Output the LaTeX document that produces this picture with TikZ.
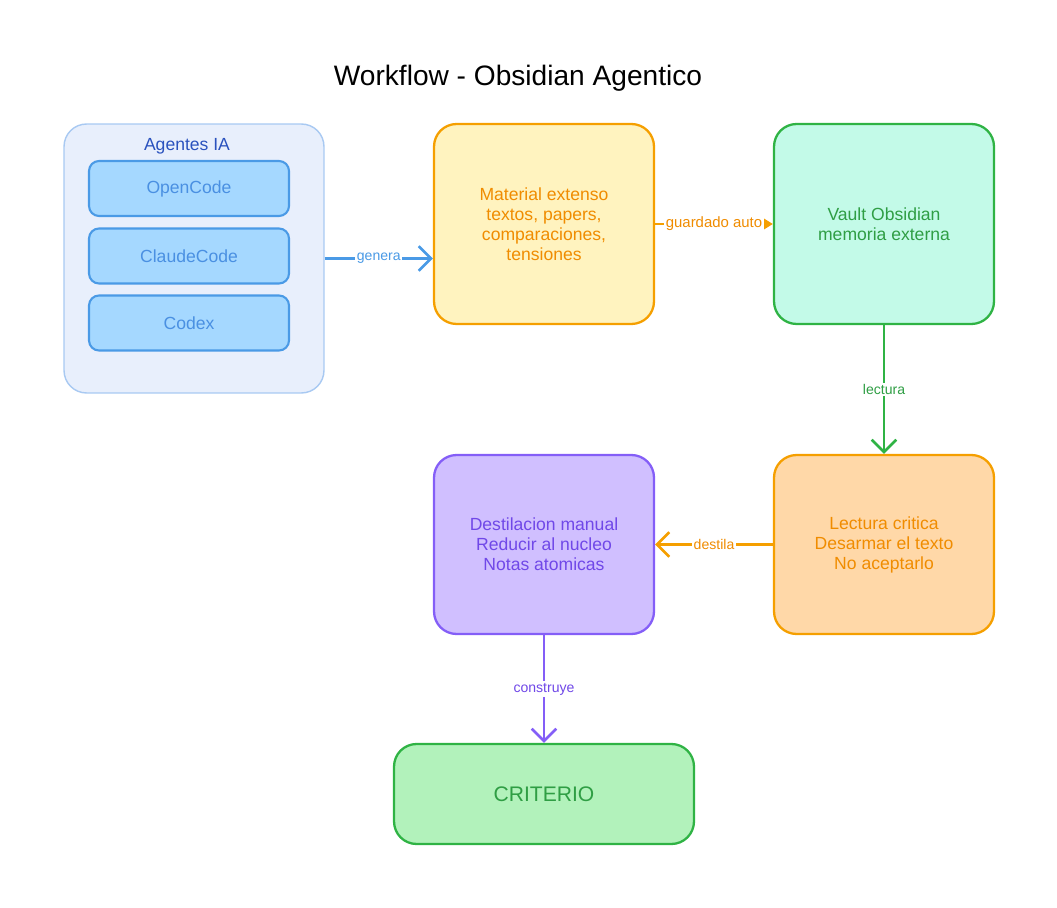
\documentclass[tikz,border=0pt]{standalone}
\usepackage{fontspec}
\setmainfont{Liberation Sans}
\usetikzlibrary{arrows.meta}

\definecolor{groupfill}{HTML}{E8EFFC}
\definecolor{groupline}{HTML}{A8C9F2}
\definecolor{bluefill}{HTML}{A5D8FF}
\definecolor{blueline}{HTML}{4A9AE6}
\definecolor{bluetext}{HTML}{4A90E2}
\definecolor{bluedark}{HTML}{2A52BE}
\definecolor{orangeline}{HTML}{F59F00}
\definecolor{orangetext}{HTML}{F08C00}
\definecolor{yellowfill}{HTML}{FFF3BF}
\definecolor{orangefill}{HTML}{FFD8A8}
\definecolor{greenline}{HTML}{2FB344}
\definecolor{greentext}{HTML}{2F9E44}
\definecolor{mintfill}{HTML}{C3FAE8}
\definecolor{greenfill}{HTML}{B2F2BB}
\definecolor{purpleline}{HTML}{845EF7}
\definecolor{purpletext}{HTML}{7048E8}
\definecolor{purplefill}{HTML}{D0BFFF}

\begin{document}
\begin{tikzpicture}[x=0.02cm, y=-0.02cm]
   \tikzstyle{every node}=[align=center, font=\fontsize{10}{11.4}\selectfont]
   \tikzstyle{bigbox}=[draw, rounded corners=0.45cm, line width=1.3pt, minimum width=4.4cm, minimum height=4cm]
   \tikzstyle{toolbox}=[draw=blueline, fill=bluefill, text=bluetext, rounded corners=0.2cm, line width=1.2pt, minimum width=4cm, minimum height=1.1cm]
   \tikzstyle{flow}=[line width=1.5pt, -{Straight Barb[length=7pt, width=14pt, line width=1.5pt]}]
   \tikzstyle{edgelabel}=[fill=white, inner sep=1pt, font=\fontsize{8}{9}\selectfont]

\useasboundingbox (0,0) rectangle (1057,908);

\node (title) at (518,78) {\fontsize{16}{19}\selectfont Workflow - Obsidian Agentico};

% agentes
\node[draw=groupline, fill=groupfill, rounded corners=0.45cm, line width=0.8pt,
      minimum width=5.2cm, minimum height=5.38cm] (agentes) at (194,258.5) {};
\node[text=bluedark] (agenteslabel) at (187,146) {Agentes IA};
\node[toolbox] (opencode) at (189,188.5) {OpenCode};
\node[toolbox] (claudecode) at (189,256) {ClaudeCode};
\node[toolbox] (codex) at (189,323) {Codex};

% flujo
\node[bigbox, draw=orangeline, fill=yellowfill, text=orangetext] (material) at (544,224)
    {Material extenso\\textos, papers,\\comparaciones,\\tensiones};
\node[bigbox, draw=greenline, fill=mintfill, text=greentext] (vault) at (884,224)
    {Vault Obsidian\\memoria externa};
\node[bigbox, draw=orangeline, fill=orangefill, text=orangetext, minimum height=3.58cm] (lectura) at (884,544.5)
    {Lectura critica\\Desarmar el texto\\No aceptarlo};
\node[bigbox, draw=purpleline, fill=purplefill, text=purpletext, minimum height=3.58cm] (destilacion) at (544,544.5)
    {Destilacion manual\\Reducir al nucleo\\Notas atomicas};
\node[bigbox, draw=greenline, fill=greenfill, text=greentext, minimum width=6cm, minimum height=2cm] (criterio) at (544,794)
    {\fontsize{12}{14}\selectfont CRITERIO};

\draw[flow, draw=blueline] (agentes.east) -- node[edgelabel, text=blueline] {genera} (agentes.east -| material.west);
\draw[line width=1.4pt, draw=orangeline, -{Triangle[length=6pt, width=7pt]}] (material) -- node[edgelabel, text=orangetext, font=\fontsize{8.5}{9}\selectfont] {guardado auto} (vault);
\draw[flow, draw=greenline] (vault) -- node[edgelabel, text=greentext] {lectura} (lectura);
\draw[flow, draw=orangeline] (lectura) -- node[edgelabel, text=orangetext] {destila} (destilacion);
\draw[flow, draw=purpleline] (destilacion) -- node[edgelabel, text=purpletext] {construye} (criterio);

\end{tikzpicture}
\end{document}
